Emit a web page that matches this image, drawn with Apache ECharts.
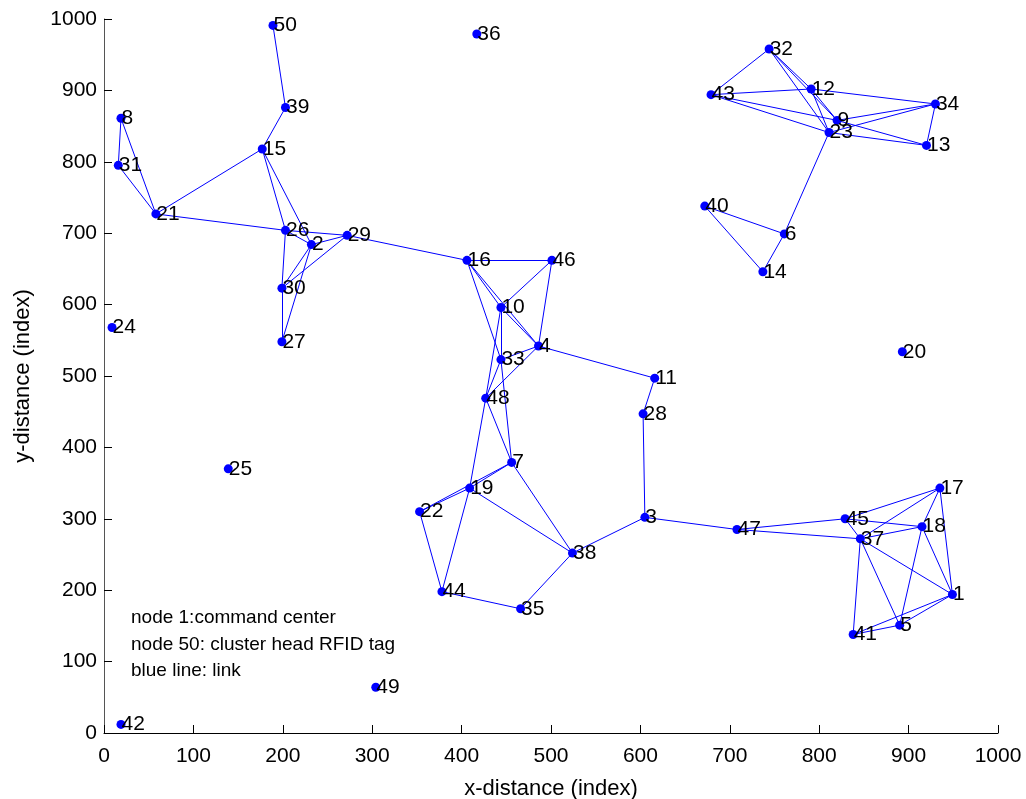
<!DOCTYPE html>
<html>
<head>
<meta charset="utf-8">
<title>RFID node links</title>
<script src="https://cdn.jsdelivr.net/npm/echarts@6/dist/echarts.min.js"></script>
<style>
  html, body { margin: 0; padding: 0; background: #fff; }
  #chart { width: 1026px; height: 799px; }
</style>
</head>
<body>
<div id="chart"></div>
<script>
// Node ids and their positions (x, y) in the field
const nodeIds = [1,2,3,4,5,6,7,8,9,10,11,12,13,14,15,16,17,18,19,20,21,22,23,24,25,26,27,28,29,30,31,32,33,34,35,36,37,38,39,40,41,42,43,44,45,46,47,48,49,50];
const nodeX = [949,232,605,486,890,761,456,19,820,444,616,791,920,737,177,406,935,915,409,893,58,353,811,9,139,203,199,603,272,199,16,744,444,930,466,417,846,524,203,672,838,19,679,378,829,501,708,427,304,189];
const nodeY = [194,684,302,542,151,699,379,861,858,596,497,902,823,646,818,662,343,289,343,534,727,310,841,568,370,704,548,447,697,623,795,958,523,881,174,979,272,252,876,738,138,12,894,198,300,662,285,469,64,991];

// Radio links between node pairs
const links = [
  [8,31],[8,21],[31,21],[21,15],[21,26],[26,29],[29,16],[50,39],[39,15],[15,26],[15,2],
  [26,2],[26,30],[2,29],[2,30],[2,27],[29,30],[30,27],
  [16,46],[16,10],[16,4],[16,33],[46,10],[46,4],[10,4],[10,33],[10,48],[33,48],[4,48],[4,33],
  [33,7],[4,11],[11,28],[28,3],[3,38],[3,47],[48,7],[48,19],[19,44],[7,19],[7,22],[22,19],
  [19,38],[7,38],[22,44],[44,35],[35,38],
  [32,43],[32,12],[32,9],[32,23],[43,12],[43,9],[43,23],[12,34],[12,9],[12,23],[9,34],[9,13],
  [23,34],[23,13],[34,13],[23,6],[40,6],[40,14],[6,14],
  [47,45],[47,37],[45,17],[45,18],[45,37],[37,17],[37,18],[37,1],[37,5],[37,41],[18,17],
  [18,1],[18,5],[17,1],[1,5],[1,41],[5,41]
];

// Axis ticks
const xTicks = [0,100,200,300,400,500,600,700,800,900,1000];
const yTicks = [0,100,200,300,400,500,600,700,800,900,1000];

const noteLines = ['node 1:command center', 'node 50: cluster head RFID tag', 'blue line: link'];

const FONT = '"Liberation Sans", Arial, Helvetica, sans-serif';
const BLUE = '#0000ff';

const chart = echarts.init(document.getElementById('chart'), null, { renderer: 'canvas' });

const graphNodes = nodeIds.map((id, i) => ({ name: String(id), value: [nodeX[i], nodeY[i]] }));
const graphLinks = links.map(([a, b]) => ({ source: String(a), target: String(b) }));

function axisCommon(ticks, lineColor, labelMargin) {
  return {
    type: 'value',
    min: ticks[0],
    max: ticks[ticks.length - 1],
    interval: ticks[1] - ticks[0],
    splitLine: { show: false },
    axisLine: { show: true, onZero: false, lineStyle: { color: lineColor, width: 1 } },
    axisTick: { show: true, inside: true, length: 8, lineStyle: { color: '#000', width: 1 } },
    axisLabel: {
      color: '#000', fontSize: 21, fontFamily: FONT, margin: labelMargin,
      showMinLabel: true, showMaxLabel: true,
      formatter: v => String(v)
    },
    nameTextStyle: { color: '#000', fontSize: 22, fontFamily: FONT }
  };
}

chart.setOption({
  animation: false,
  backgroundColor: '#fff',
  grid: { left: 104, right: 28, top: 19, bottom: 66, containLabel: false, outerBoundsMode: 'none' },
  xAxis: Object.assign(axisCommon(xTicks, '#000', 13), {
    name: 'x-distance (index)',
    nameLocation: 'middle',
    nameGap: 45
  }),
  yAxis: Object.assign(axisCommon(yTicks, '#555', 7), {
    name: 'y-distance (index)',
    nameLocation: 'middle',
    nameGap: 70
  }),
  graphic: [{
    type: 'text',
    left: 131,
    top: 605,
    style: {
      text: noteLines.join('\n'),
      fill: '#000',
      font: '19px ' + FONT,
      lineHeight: 26.5
    }
  }],
  series: [{
    type: 'graph',
    coordinateSystem: 'cartesian2d',
    layout: 'none',
    symbol: 'circle',
    symbolSize: 9,
    itemStyle: { color: BLUE },
    lineStyle: { color: BLUE, width: 1, opacity: 1, curveness: 0 },
    label: {
      show: true,
      position: 'right',
      distance: -4,
      formatter: '{b}',
      color: '#000',
      fontSize: 21,
      fontFamily: FONT
    },
    emphasis: { disabled: true },
    data: graphNodes,
    links: graphLinks
  }]
});
</script>
</body>
</html>
